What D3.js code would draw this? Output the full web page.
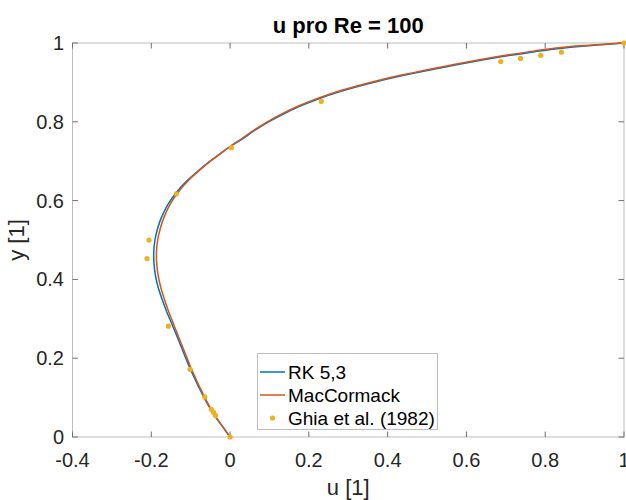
<!DOCTYPE html>
<html>
<head>
<meta charset="utf-8">
<script src="https://cdn.jsdelivr.net/npm/d3@7"></script>
<style>
  body { margin: 0; background: #fff; }
  svg { display: block; font-family: "Liberation Sans", Arial, Helvetica, sans-serif; }
</style>
</head>
<body>
<svg id="chart" width="626" height="500"></svg>
<script>
// Horizontal velocity u along the vertical centre line of the cavity, Re = 100
const rkY = [0, 0.03, 0.06, 0.10, 0.17, 0.24, 0.28, 0.32, 0.35, 0.38, 0.41, 0.44, 0.47, 0.50,
             0.53, 0.56, 0.59, 0.62, 0.65, 0.68, 0.70, 0.72, 0.74, 0.758, 0.778, 0.798, 0.818,
             0.838, 0.858, 0.878, 0.898, 0.918, 0.938, 0.958, 0.968, 0.978, 0.988, 1.0];
const rkU = [0, -0.0217, -0.0428, -0.0660, -0.0999, -0.1285, -0.1449, -0.1616, -0.1728, -0.1826,
             -0.1895, -0.1931, -0.1937, -0.1907, -0.1838, -0.1731, -0.1580, -0.1368, -0.1097,
             -0.0757, -0.0508, -0.0239, 0.0042, 0.0335, 0.0625, 0.0945, 0.1315, 0.1735, 0.2235,
             0.2835, 0.3555, 0.4415, 0.5395, 0.6475, 0.7075, 0.7735, 0.8535, 1.0];

const mcY = [0, 0.03, 0.06, 0.10, 0.17, 0.24, 0.28, 0.32, 0.35, 0.38, 0.41, 0.44, 0.47, 0.50,
             0.53, 0.56, 0.59, 0.62, 0.65, 0.68, 0.70, 0.72, 0.74, 0.76, 0.78, 0.80, 0.82,
             0.84, 0.86, 0.88, 0.90, 0.92, 0.94, 0.96, 0.97, 0.98, 0.99, 1.0];
const mcU = [0, -0.0215, -0.0420, -0.0640, -0.0969, -0.1249, -0.1409, -0.1565, -0.1670, -0.1760,
             -0.1826, -0.1862, -0.1868, -0.1838, -0.1770, -0.1668, -0.1527, -0.1330, -0.1072,
             -0.0742, -0.0498, -0.0234, 0.0042, 0.0335, 0.0625, 0.0945, 0.1315, 0.1735, 0.2235,
             0.2835, 0.3555, 0.4415, 0.5395, 0.6475, 0.7075, 0.7735, 0.8535, 1.0];

// Reference values, Ghia, Ghia & Shin (1982)
const ghiaU = [1.0, 0.84123, 0.78871, 0.73722, 0.68717, 0.23151, 0.00332, -0.13641, -0.20581,
               -0.21090, -0.15662, -0.10150, -0.06434, -0.04775, -0.04192, -0.03717, 0.0];
const ghiaY = [1.0, 0.9766, 0.9688, 0.9609, 0.9531, 0.8516, 0.7344, 0.6172, 0.5000,
               0.4531, 0.2813, 0.1719, 0.1016, 0.0703, 0.0625, 0.0547, 0.0];

const xTicks = [-0.4, -0.2, 0, 0.2, 0.4, 0.6, 0.8, 1];
const yTicks = [0, 0.2, 0.4, 0.6, 0.8, 1];

const seriesNames = ["RK 5,3", "MacCormack", "Ghia et al. (1982)"];
const colors = ["#0072BD", "#D95319", "#EDB120"];

const plot = { left: 72.5, right: 624, top: 43, bottom: 437 };

const svg = d3.select("#chart");
const x = d3.scaleLinear().domain([-0.4, 1]).range([plot.left, plot.right]);
const y = d3.scaleLinear().domain([0, 1]).range([plot.bottom, plot.top]);

const fmt = d => String(+d.toFixed(1));
const tickLen = 5.5;
const spineColor = "#bdbdbd";
const tickColor = "#6e6e6e";
const textColor = "#262626";

// frame
svg.append("rect")
  .attr("x", plot.left).attr("y", plot.top)
  .attr("width", plot.right - plot.left).attr("height", plot.bottom - plot.top)
  .attr("fill", "none").attr("stroke", spineColor).attr("stroke-width", 1);

// ticks pointing inward on all four sides
const g = svg.append("g");
xTicks.forEach(t => {
  g.append("line").attr("x1", x(t)).attr("x2", x(t))
    .attr("y1", plot.bottom).attr("y2", plot.bottom - tickLen)
    .attr("stroke", tickColor).attr("stroke-width", 1);
  g.append("line").attr("x1", x(t)).attr("x2", x(t))
    .attr("y1", plot.top).attr("y2", plot.top + tickLen)
    .attr("stroke", tickColor).attr("stroke-width", 1);
});
yTicks.forEach(t => {
  g.append("line").attr("x1", plot.left).attr("x2", plot.left + tickLen)
    .attr("y1", y(t)).attr("y2", y(t))
    .attr("stroke", tickColor).attr("stroke-width", 1);
  g.append("line").attr("x1", plot.right).attr("x2", plot.right - tickLen)
    .attr("y1", y(t)).attr("y2", y(t))
    .attr("stroke", tickColor).attr("stroke-width", 1);
});

// tick labels
svg.append("g").selectAll("text").data(xTicks).join("text")
  .attr("x", d => x(d)).attr("y", 467)
  .attr("text-anchor", "middle").attr("font-size", 20).attr("fill", textColor)
  .text(fmt);
svg.append("g").selectAll("text").data(yTicks).join("text")
  .attr("x", 64).attr("y", d => y(d)).attr("dy", "0.35em")
  .attr("text-anchor", "end").attr("font-size", 20).attr("fill", textColor)
  .text(fmt);

// axis titles and chart title
svg.append("text").attr("x", (plot.left + plot.right) / 2).attr("y", 495)
  .attr("text-anchor", "middle").attr("font-size", 22).attr("fill", textColor)
  .text("u [1]");
svg.append("text")
  .attr("transform", `translate(24,${(plot.top + plot.bottom) / 2}) rotate(-90)`)
  .attr("text-anchor", "middle").attr("font-size", 22).attr("fill", textColor)
  .text("y [1]");
svg.append("text").attr("x", (plot.left + plot.right) / 2).attr("y", 33)
  .attr("text-anchor", "middle").attr("font-size", 22).attr("font-weight", "bold")
  .attr("fill", "#000")
  .text("u pro Re = 100");

// velocity profiles
const line = d3.line().x(d => x(d[0])).y(d => y(d[1])).curve(d3.curveCatmullRom.alpha(0.5));
const rk = d3.zip(rkU, rkY);
const mc = d3.zip(mcU, mcY);
svg.append("path").datum(rk).attr("d", line)
  .attr("fill", "none").attr("stroke", colors[0]).attr("stroke-width", 1.5);
svg.append("path").datum(mc).attr("d", line)
  .attr("fill", "none").attr("stroke", colors[1]).attr("stroke-width", 1.5);

// reference points
svg.append("g").selectAll("circle").data(d3.zip(ghiaU, ghiaY)).join("circle")
  .attr("cx", d => x(d[0])).attr("cy", d => y(d[1])).attr("r", 2.6)
  .attr("fill", colors[2]);

// legend
const lg = svg.append("g");
lg.append("rect").attr("x", 257.5).attr("y", 353.5).attr("width", 180).attr("height", 76)
  .attr("fill", "#fff").attr("stroke", spineColor).attr("stroke-width", 1);
const rowY = [372, 395, 418];
seriesNames.forEach((name, i) => {
  if (i < 2) {
    lg.append("line").attr("x1", 260).attr("x2", 285).attr("y1", rowY[i]).attr("y2", rowY[i])
      .attr("stroke", colors[i]).attr("stroke-width", 1.5);
  } else {
    lg.append("circle").attr("cx", 272.5).attr("cy", rowY[i]).attr("r", 2.6).attr("fill", colors[i]);
  }
  lg.append("text").attr("x", 288).attr("y", rowY[i]).attr("dy", "0.35em")
    .attr("font-size", 19).attr("fill", "#000").text(name);
});
</script>
</body>
</html>
